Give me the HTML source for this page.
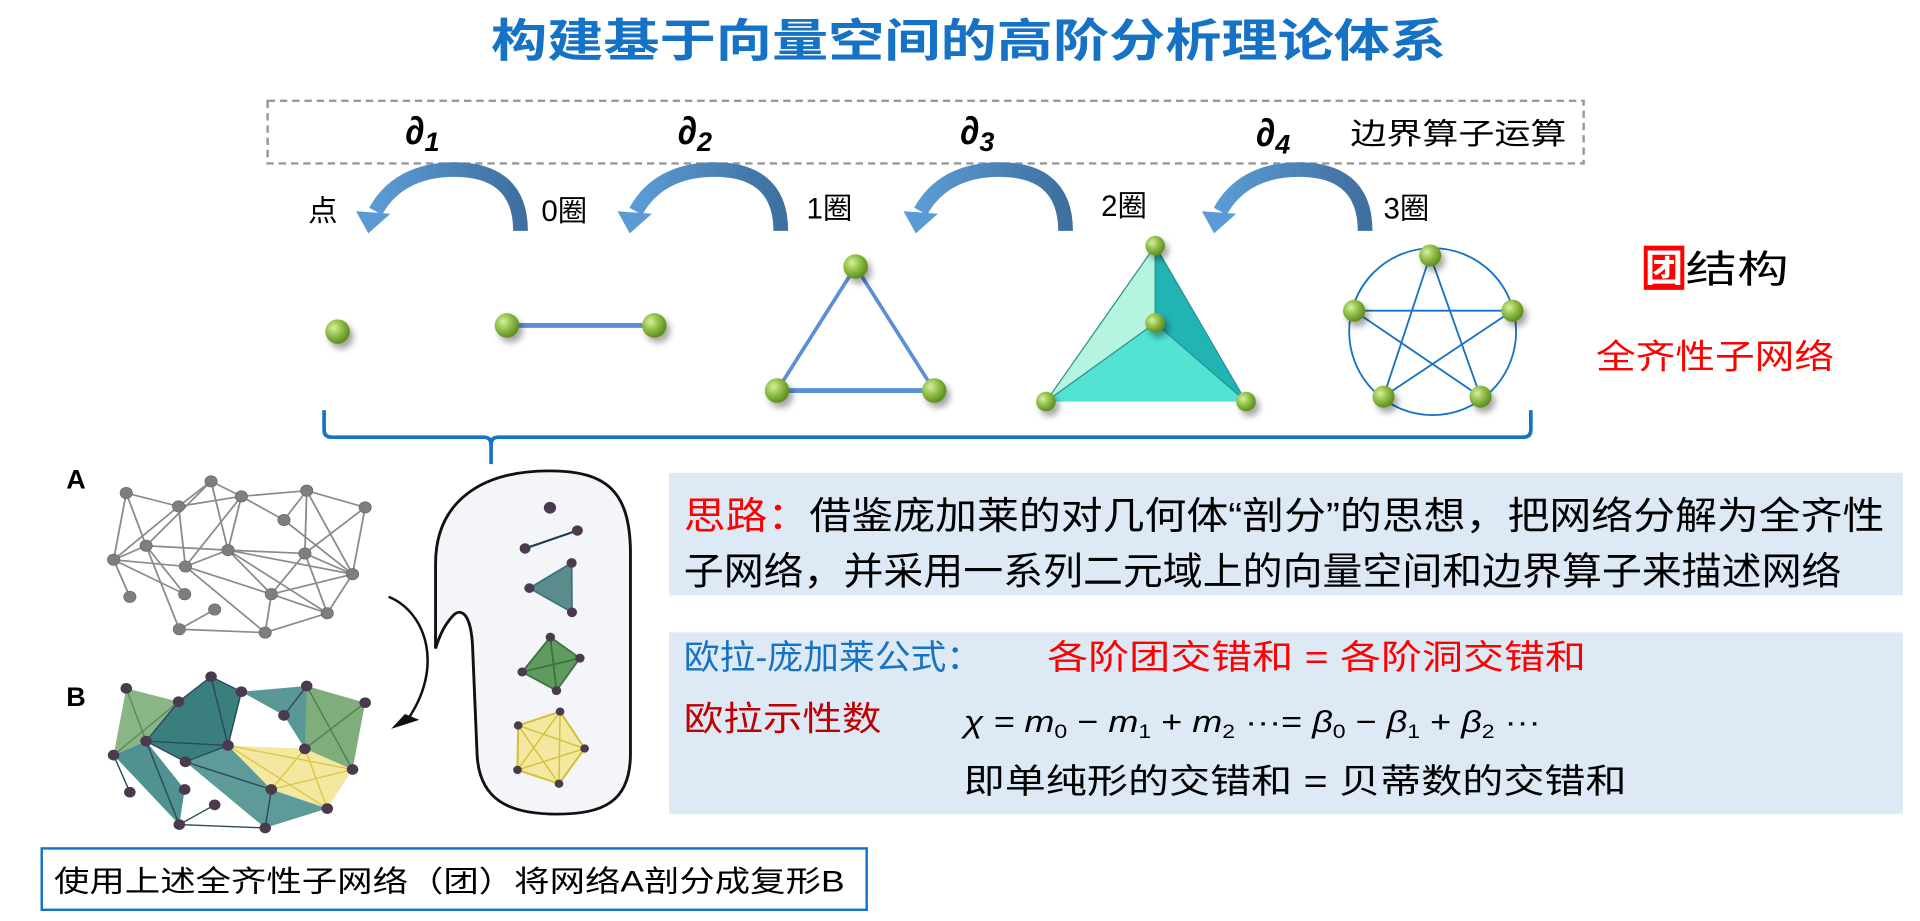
<!DOCTYPE html>
<html><head><meta charset="utf-8">
<style>
html,body{margin:0;padding:0;background:#fff;}
svg{display:block;}
text{font-family:"Liberation Sans","Noto Sans CJK SC",sans-serif;}
</style></head>
<body>
<svg width="1920" height="921" viewBox="0 0 1564 750" xmlns="http://www.w3.org/2000/svg">
<defs>
<radialGradient id="ball" cx="35%" cy="35%" r="65%">
<stop offset="0" stop-color="#d6f0a0"/><stop offset="0.5" stop-color="#93c04a"/><stop offset="1" stop-color="#5e8f22"/>
</radialGradient>
<linearGradient id="arc" x1="0" y1="0" x2="1" y2="0">
<stop offset="0" stop-color="#5b9bd5"/><stop offset="1" stop-color="#3f6f9f"/>
</linearGradient>
<filter id="sh" x="-50%" y="-50%" width="200%" height="200%"><feDropShadow dx="3" dy="4" stdDeviation="2.5" flood-color="#000" flood-opacity="0.35"/></filter>
</defs>

<text x="400" y="46" font-size="37" font-weight="bold" fill="#1672c4" textLength="778" lengthAdjust="spacingAndGlyphs">构建基于向量空间的高阶分析理论体系</text>

<rect x="218" y="82" width="1072" height="51" fill="none" stroke="#999" stroke-width="2" stroke-dasharray="6,4"/>
<g font-style="italic" font-weight="bold" fill="#000">
<text x="330" y="117" font-size="32" font-family="Liberation Serif, serif">∂<tspan font-size="22" dy="6">1</tspan></text>
<text x="552" y="117" font-size="32" font-family="Liberation Serif, serif">∂<tspan font-size="22" dy="6">2</tspan></text>
<text x="782" y="117" font-size="32" font-family="Liberation Serif, serif">∂<tspan font-size="22" dy="6">3</tspan></text>
<text x="1023" y="119" font-size="32" font-family="Liberation Serif, serif">∂<tspan font-size="22" dy="6">4</tspan></text>
</g>
<text x="1100" y="117" font-size="24" fill="#000" textLength="176" lengthAdjust="spacingAndGlyphs">边界算子运算</text>

<g fill="none" stroke="url(#arc)" stroke-width="12">
<path d="M424,188 C424,150 400,138 370,138 C340,138 318,150 306,172"/>
<path d="M636,188 C636,150 612,138 582,138 C552,138 530,150 518,172"/>
<path d="M868,188 C868,150 844,138 814,138 C784,138 762,150 750,172"/>
<path d="M1112,188 C1112,150 1088,138 1058,138 C1028,138 1006,150 994,172"/>
</g>
<g fill="#5b9bd5">
<polygon points="290,172 318,174 300,190"/>
<polygon points="503,172 531,174 513,190"/>
<polygon points="736,172 764,174 746,190"/>
<polygon points="979,172 1007,174 989,190"/>
</g>
<g font-size="24" fill="#000">
<text x="251" y="180">点</text>
<text x="441" y="180">0圈</text>
<text x="657" y="178">1圈</text>
<text x="897" y="176">2圈</text>
<text x="1127" y="178">3圈</text>
</g>

<line x1="413" y1="265" x2="533" y2="265" stroke="#5b8fd6" stroke-width="4"/>
<polygon points="697,217 633,318 761,318" fill="none" stroke="#5b8fd6" stroke-width="3"/>
<line x1="633" y1="318" x2="761" y2="318" stroke="#5b8fd6" stroke-width="4"/>
<polygon points="941,200 852,327 941,263" fill="#b5f5e0"/>
<polygon points="941,200 941,263 1015,327" fill="#22b3b3"/>
<polygon points="852,327 941,263 1015,327" fill="#52e3d2"/>
<g stroke="#2a8f8f" stroke-width="1" fill="none"><polyline points="852,327 941,263 1015,327 941,200 852,327"/><line x1="941" y1="200" x2="941" y2="263"/></g>
<circle cx="1167" cy="270" r="68" fill="none" stroke="#1672c4" stroke-width="1.5"/>
<g stroke="#1672c4" stroke-width="1.5">
<line x1="1165" y1="208" x2="1127" y2="323"/><line x1="1165" y1="208" x2="1206" y2="323"/>
<line x1="1103" y1="253" x2="1232" y2="253"/><line x1="1103" y1="253" x2="1206" y2="323"/>
<line x1="1232" y1="253" x2="1127" y2="323"/>
</g>
<g fill="url(#ball)" filter="url(#sh)">
<circle cx="275" cy="270" r="10"/>
<circle cx="413" cy="265" r="10"/><circle cx="533" cy="265" r="10"/>
<circle cx="697" cy="217" r="10"/><circle cx="633" cy="318" r="10"/><circle cx="761" cy="318" r="10"/>
<circle cx="941" cy="200" r="8"/><circle cx="941" cy="263" r="8"/><circle cx="852" cy="327" r="8"/><circle cx="1015" cy="327" r="8"/>
<circle cx="1165" cy="208" r="9"/><circle cx="1103" cy="253" r="9"/><circle cx="1232" cy="253" r="9"/><circle cx="1127" cy="323" r="9"/><circle cx="1206" cy="323" r="9"/>
</g>

<rect x="1339" y="200" width="33" height="36" fill="#ff0000"/>
<text x="1340" y="229" font-size="31" fill="#fff" font-weight="bold">团</text>
<text x="1373" y="230" font-size="31" fill="#000" textLength="84" lengthAdjust="spacingAndGlyphs">结构</text>
<text x="1300" y="300" font-size="28" fill="#ff0000" textLength="194" lengthAdjust="spacingAndGlyphs">全齐性子网络</text>

<path d="M264,334 L264,350 Q264,356 270,356 L394,356 Q400,356 400,362 L400,378 M400,362 Q400,356 406,356 L1241,356 Q1247,356 1247,350 L1247,334" fill="none" stroke="#1672c4" stroke-width="3"/>

<text x="54" y="398" font-size="22" font-weight="bold" fill="#000">A</text>
<text x="54" y="575" font-size="22" font-weight="bold" fill="#000">B</text>

<g transform="translate(65.2,375.1) scale(0.294,0.272)">
<g stroke="#8a8a8a" stroke-width="5">
<line x1="128" y1="97" x2="273" y2="137"/><line x1="128" y1="97" x2="183" y2="255"/><line x1="128" y1="97" x2="93" y2="297"/>
<line x1="363" y1="62" x2="273" y2="137"/><line x1="363" y1="62" x2="447" y2="107"/><line x1="363" y1="62" x2="410" y2="268"/><line x1="363" y1="62" x2="183" y2="255"/>
<line x1="273" y1="137" x2="447" y2="107"/><line x1="273" y1="137" x2="93" y2="297"/><line x1="273" y1="137" x2="292" y2="317"/>
<line x1="447" y1="107" x2="628" y2="90"/><line x1="447" y1="107" x2="565" y2="178"/><line x1="447" y1="107" x2="292" y2="317"/><line x1="447" y1="107" x2="410" y2="268"/>
<line x1="628" y1="90" x2="790" y2="140"/><line x1="628" y1="90" x2="565" y2="178"/><line x1="628" y1="90" x2="623" y2="278"/><line x1="628" y1="90" x2="755" y2="340"/>
<line x1="790" y1="140" x2="755" y2="340"/><line x1="790" y1="140" x2="623" y2="278"/><line x1="565" y1="178" x2="755" y2="340"/>
<line x1="183" y1="255" x2="93" y2="297"/><line x1="183" y1="255" x2="410" y2="268"/><line x1="183" y1="255" x2="275" y2="505"/><line x1="183" y1="255" x2="290" y2="400"/>
<line x1="410" y1="268" x2="623" y2="278"/><line x1="410" y1="268" x2="292" y2="317"/><line x1="410" y1="268" x2="530" y2="400"/><line x1="410" y1="268" x2="685" y2="457"/><line x1="410" y1="268" x2="755" y2="340"/>
<line x1="623" y1="278" x2="530" y2="400"/><line x1="623" y1="278" x2="685" y2="457"/><line x1="623" y1="278" x2="755" y2="340"/>
<line x1="93" y1="297" x2="138" y2="408"/><line x1="93" y1="297" x2="290" y2="400"/><line x1="93" y1="297" x2="292" y2="317"/>
<line x1="292" y1="317" x2="530" y2="400"/><line x1="292" y1="317" x2="513" y2="515"/>
<line x1="755" y1="340" x2="530" y2="400"/><line x1="755" y1="340" x2="685" y2="457"/><line x1="530" y1="400" x2="685" y2="457"/><line x1="530" y1="400" x2="513" y2="515"/>
<line x1="373" y1="446" x2="275" y2="505"/><line x1="275" y1="505" x2="513" y2="515"/><line x1="685" y1="457" x2="513" y2="515"/>
</g>
<g fill="#7e7e7e" stroke="#666" stroke-width="2">
<circle cx="128" cy="97" r="17"/><circle cx="363" cy="62" r="17"/><circle cx="273" cy="137" r="17"/><circle cx="447" cy="107" r="17"/><circle cx="628" cy="90" r="17"/><circle cx="790" cy="140" r="17"/><circle cx="565" cy="178" r="17"/><circle cx="183" cy="255" r="17"/><circle cx="410" cy="268" r="17"/><circle cx="623" cy="278" r="17"/><circle cx="93" cy="297" r="17"/><circle cx="292" cy="317" r="17"/><circle cx="755" cy="340" r="17"/><circle cx="138" cy="408" r="17"/><circle cx="290" cy="400" r="17"/><circle cx="530" cy="400" r="17"/><circle cx="373" cy="446" r="17"/><circle cx="685" cy="457" r="17"/><circle cx="275" cy="505" r="17"/><circle cx="513" cy="515" r="17"/>
</g>

<g transform="translate(0,585)">
<polygon points="128,97 273,137 183,255 93,297" fill="#8ab584"/>
<polygon points="93,297 183,255 290,400 275,505" fill="#4f9290"/>
<polygon points="363,62 273,137 183,255 292,317 410,268 447,107" fill="#3a7f7e"/>
<polygon points="447,107 628,90 565,178" fill="#5a9896"/>
<polygon points="628,90 565,178 623,278 755,340" fill="#5a9896"/>
<polygon points="628,90 790,140 755,340 623,278" fill="#7fae7c"/>
<polygon points="410,268 623,278 755,340 685,457 530,400" fill="#f4e7a0"/>
<polygon points="292,317 410,268 530,400 685,457 513,515" fill="#5d9a98"/>
<g stroke="#2a4a5a" stroke-width="4">
<line x1="128" y1="97" x2="183" y2="255" stroke="#5b8a5a"/><line x1="273" y1="137" x2="93" y2="297" stroke="#5b8a5a"/>
<line x1="363" y1="62" x2="273" y2="137"/><line x1="363" y1="62" x2="410" y2="268"/><line x1="363" y1="62" x2="447" y2="107"/><line x1="273" y1="137" x2="183" y2="255"/>
<line x1="183" y1="255" x2="410" y2="268"/><line x1="183" y1="255" x2="292" y2="317"/><line x1="292" y1="317" x2="410" y2="268"/><line x1="447" y1="107" x2="410" y2="268"/>
<line x1="628" y1="90" x2="565" y2="178"/><line x1="628" y1="90" x2="755" y2="340" stroke="#4f7f4f"/><line x1="790" y1="140" x2="623" y2="278" stroke="#4f7f4f"/>
<line x1="183" y1="255" x2="275" y2="505"/><line x1="93" y1="297" x2="138" y2="408"/>
<line x1="292" y1="317" x2="530" y2="400"/><line x1="530" y1="400" x2="513" y2="515"/>
<line x1="373" y1="446" x2="275" y2="505"/><line x1="275" y1="505" x2="513" y2="515"/>
<line x1="410" y1="268" x2="685" y2="457" stroke="#d8c84a"/><line x1="623" y1="278" x2="530" y2="400" stroke="#d8c84a"/><line x1="410" y1="268" x2="755" y2="340" stroke="#d8c84a"/><line x1="623" y1="278" x2="685" y2="457" stroke="#d8c84a"/><line x1="530" y1="400" x2="755" y2="340" stroke="#d8c84a"/>
</g>
<g fill="#4a3a4e">
<circle cx="128" cy="97" r="16"/><circle cx="363" cy="62" r="16"/><circle cx="273" cy="137" r="16"/><circle cx="447" cy="107" r="16"/><circle cx="628" cy="90" r="16"/><circle cx="790" cy="140" r="16"/><circle cx="565" cy="178" r="16"/><circle cx="183" cy="255" r="16"/><circle cx="410" cy="268" r="16"/><circle cx="623" cy="278" r="16"/><circle cx="93" cy="297" r="16"/><circle cx="292" cy="317" r="16"/><circle cx="755" cy="340" r="16"/><circle cx="138" cy="408" r="16"/><circle cx="290" cy="400" r="16"/><circle cx="530" cy="400" r="16"/><circle cx="373" cy="446" r="16"/><circle cx="685" cy="457" r="16"/><circle cx="275" cy="505" r="16"/><circle cx="513" cy="515" r="16"/>
</g>
</g>
</g>

<g transform="translate(65.2,375) scale(0.294,0.281)">
<path d="M1300,30 C1460,30 1522,90 1525,260 L1525,850 C1525,990 1450,1025 1320,1025 C1190,1025 1105,985 1100,850 L1088,550 C1085,450 1060,425 1035,448 C1005,480 992,520 985,545 L985,300 C985,120 1110,30 1300,30 Z" fill="#f4f5f8" stroke="#111" stroke-width="8"/>
<path d="M855,395 C960,440 1010,600 905,755" fill="none" stroke="#111" stroke-width="7"/>
<polygon points="862,778 940,752 900,735" fill="#111"/>
<line x1="1233" y1="255" x2="1378" y2="203" stroke="#1f3a55" stroke-width="6"/>
<polygon points="1245,370 1362,297 1363,440" fill="#5a8c8c" stroke="#3f6f80" stroke-width="5"/>
<polygon points="1303,512 1385,573 1320,667 1225,613" fill="#5f9a5f" stroke="#3f7040" stroke-width="5"/>
<line x1="1303" y1="512" x2="1320" y2="667" stroke="#3f7040" stroke-width="5"/><line x1="1225" y1="613" x2="1385" y2="573" stroke="#3f7040" stroke-width="5"/>
<polygon points="1330,728 1398,835 1327,937 1212,897 1214,768" fill="#f4e7a0" stroke="#d2c23a" stroke-width="6"/>
<g stroke="#d2c23a" stroke-width="4"><line x1="1330" y1="728" x2="1327" y2="937"/><line x1="1330" y1="728" x2="1212" y2="897"/><line x1="1398" y1="835" x2="1212" y2="897"/><line x1="1398" y1="835" x2="1214" y2="768"/><line x1="1327" y1="937" x2="1214" y2="768"/></g>
<g fill="#4a3a4e">
<circle cx="1302" cy="137" r="17"/><circle cx="1233" cy="255" r="15"/><circle cx="1378" cy="203" r="15"/>
<circle cx="1245" cy="370" r="14"/><circle cx="1362" cy="297" r="14"/><circle cx="1363" cy="440" r="14"/>
<circle cx="1303" cy="512" r="13"/><circle cx="1385" cy="573" r="13"/><circle cx="1320" cy="667" r="13"/><circle cx="1225" cy="613" r="13"/>
<circle cx="1330" cy="728" r="12"/><circle cx="1398" cy="835" r="12"/><circle cx="1327" cy="937" r="12"/><circle cx="1212" cy="897" r="12"/><circle cx="1214" cy="768" r="12"/>
</g>
</g>

<rect x="545" y="385" width="1005" height="100" fill="#dde9f5"/>
<text x="557" y="431" font-size="31" fill="#000" textLength="978" lengthAdjust="spacingAndGlyphs"><tspan fill="#ff0000">思路：</tspan>借鉴庞加莱的对几何体“剖分”的思想，把网络分解为全齐性</text>
<text x="557" y="476" font-size="31" fill="#000" textLength="943" lengthAdjust="spacingAndGlyphs">子网络，并采用一系列二元域上的向量空间和边界算子来描述网络</text>

<rect x="545" y="515" width="1005" height="148" fill="#dde9f5"/>
<text x="557" y="545" font-size="28" fill="#1672c4" textLength="243" lengthAdjust="spacingAndGlyphs">欧拉-庞加莱公式：</text>
<text x="853" y="545" font-size="28" fill="#ff0000" textLength="439" lengthAdjust="spacingAndGlyphs">各阶团交错和 = 各阶洞交错和</text>
<text x="557" y="595" font-size="28" fill="#c00000" textLength="161" lengthAdjust="spacingAndGlyphs">欧拉示性数</text>
<text x="785" y="596" font-size="25" font-style="italic" font-family="Liberation Serif, serif" fill="#000" textLength="470" lengthAdjust="spacingAndGlyphs">χ = m<tspan font-size="16" dy="5" font-style="normal">0</tspan><tspan dy="-5" font-style="normal"> − </tspan>m<tspan font-size="16" dy="5" font-style="normal">1</tspan><tspan dy="-5" font-style="normal"> + </tspan>m<tspan font-size="16" dy="5" font-style="normal">2</tspan><tspan dy="-5" font-style="normal"> ···= </tspan>β<tspan font-size="16" dy="5" font-style="normal">0</tspan><tspan dy="-5" font-style="normal"> − </tspan>β<tspan font-size="16" dy="5" font-style="normal">1</tspan><tspan dy="-5" font-style="normal"> + </tspan>β<tspan font-size="16" dy="5" font-style="normal">2</tspan><tspan dy="-5" font-style="normal"> ···</tspan></text>
<text x="785" y="646" font-size="28" fill="#000" textLength="540" lengthAdjust="spacingAndGlyphs">即单纯形的交错和 = 贝蒂数的交错和</text>

<rect x="34" y="691" width="672" height="50" fill="#fff" stroke="#1672c4" stroke-width="2"/>
<text x="44" y="726" font-size="24" fill="#000" textLength="644" lengthAdjust="spacingAndGlyphs">使用上述全齐性子网络（团）将网络A剖分成复形B</text>
</svg>
</body></html>
